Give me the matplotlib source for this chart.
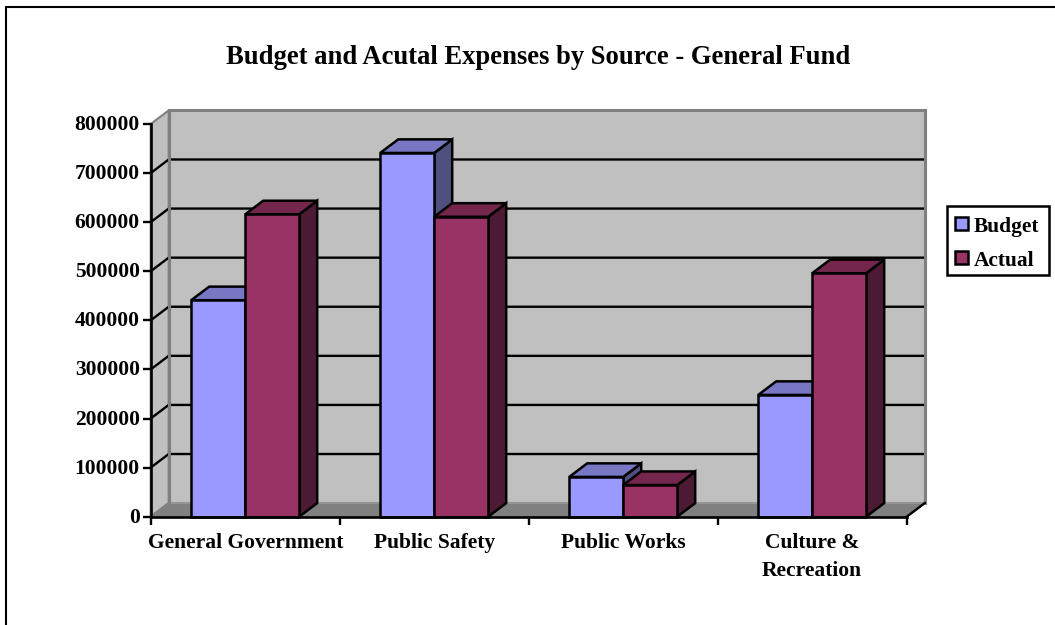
import matplotlib
matplotlib.use('Agg')
import matplotlib.pyplot as plt
from matplotlib.patches import Polygon, Rectangle
from matplotlib.transforms import ScaledTranslation
import numpy as np

categories = ['General Government', 'Public Safety', 'Public Works', 'Culture &\nRecreation']
budget = [441000, 741000, 81000, 248000]
actual = [616000, 611000, 64500, 496000]
y_ticks = [0, 100000, 200000, 300000, 400000, 500000, 600000, 700000, 800000]

W, H = 1055, 625
plt.rcParams['font.family'] = 'Liberation Serif'
plt.rcParams['font.weight'] = 'bold'

fig = plt.figure(figsize=(W / 100, H / 100), dpi=100)

# outer chart frame, open on the right and at the bottom
fig.add_artist(Rectangle((6.0 / W, -0.02), (W + 20) / W, 1.02 - 6.7 / H, transform=fig.transFigure,
                         fill=False, edgecolor='black', linewidth=1.5))

# axes covers the front face of the 3d box
left, right, top, bottom = 150.7, 906.7, 124.0, 516.7
ax = fig.add_axes([left / W, 1 - bottom / H, (right - left) / W, (bottom - top) / H])
ax.set_xlim(0, 4)
ax.set_ylim(0, 800000)
ax.patch.set_visible(False)
for s in ax.spines.values():
    s.set_visible(False)

# depth of the box, in data units
dx = 18.0 / 189.0
dy = 13.6 / 392.7 * 800000


def poly(pts, fc, ec, lw, z):
    ax.add_patch(Polygon(pts, closed=True, facecolor=fc, edgecolor=ec, linewidth=lw,
                         joinstyle='miter', clip_on=False, zorder=z))


wall = '#c0c0c0'
wall_edge = '#808080'
ymax = y_ticks[-1]

# back wall, side wall, floor
poly([(dx, dy), (4 + dx, dy), (4 + dx, ymax + dy), (dx, ymax + dy)], wall, wall_edge, 2.2, 1)
poly([(0, 0), (dx, dy), (dx, ymax + dy), (0, ymax)], wall, wall_edge, 1.5, 1)
poly([(0, 0), (4, 0), (4 + dx, dy), (dx, dy)], '#808080', '#808080', 1.5, 1)
ax.plot([dx, 4 + dx], [dy, dy], color='#9a9a9a', lw=1.2, clip_on=False, zorder=1.5)

# gridlines run along the side wall and then the back wall
for v in y_ticks[1:-1]:
    ax.plot([0, dx, 4 + dx], [v, v + dy, v + dy], color='black', lw=1.7, clip_on=False,
            solid_capstyle='butt', zorder=2)

# redraw the wall corners over the grid ends
ax.plot([dx, dx], [dy, ymax + dy], color=wall_edge, lw=2.2, clip_on=False, zorder=2.5)
ax.plot([4 + dx, 4 + dx], [dy, ymax + dy], color=wall_edge, lw=2.2, clip_on=False, zorder=2.5)

# axis lines and ticks
ax.plot([0, 0], [0, ymax], color='black', lw=1.9, clip_on=False, zorder=6)
ax.plot([0, 4], [0, 0], color='black', lw=1.9, clip_on=False, zorder=6)
ax.plot([4, 4 + dx], [0, dy], color='black', lw=1.7, clip_on=False, zorder=2.6)
ax.set_yticks(y_ticks)
ax.set_yticklabels([str(v) for v in y_ticks], fontsize=15.5)
ax.set_xticks(np.arange(5))
ax.set_xticklabels([])
ax.tick_params(axis='y', length=5.8, width=1.7, color='black', pad=2)
ax.tick_params(axis='x', length=5.5, width=1.7, color='black')

# nudge the value labels up a little
nudge = ScaledTranslation(0, 1.5 / 100, fig.dpi_scale_trans)
for label in ax.get_yticklabels():
    label.set_transform(label.get_transform() + nudge)

bar_w = 54.0 / 189.0
colors = [('#9999ff', '#7777c4', '#50507f'), ('#993366', '#74264d', '#4d1a33')]
for i, (b, a) in enumerate(zip(budget, actual)):
    for j, val in enumerate((b, a)):
        x0 = i + 0.5 + (j - 1) * bar_w
        x1 = x0 + bar_w
        front, top_c, side = colors[j]
        z = 3 + 0.1 * i + 0.01 * j
        poly([(x1, 0), (x1 + dx, dy), (x1 + dx, val + dy), (x1, val)], side, 'black', 1.8, z)
        poly([(x0, val), (x1, val), (x1 + dx, val + dy), (x0 + dx, val + dy)], top_c, 'black', 1.8, z)
        poly([(x0, 0), (x1, 0), (x1, val), (x0, val)], front, 'black', 1.8, z)

for i, name in enumerate(categories):
    ax.text(i + 0.5, -33000, name, ha='center', va='top', fontsize=15.5, fontweight='bold',
            linespacing=1.55)

fig.text(538 / W, 1 - 57 / H, 'Budget and Acutal Expenses by Source - General Fund', ha='center', va='center',
         fontsize=19.2, fontweight='bold')

# legend box
fig.add_artist(Rectangle((946.5 / W, 1 - 275 / H), 102.5 / W, 69 / H, transform=fig.transFigure,
                         facecolor='white', edgecolor='black', linewidth=1.8))
for name, c, yc, ty in [('Budget', colors[0][0], 223.5, 226.5), ('Actual', colors[1][0], 257.5, 261)]:
    fig.add_artist(Rectangle((954.5 / W, 1 - (yc + 6.5) / H), 13 / W, 13 / H, transform=fig.transFigure,
                             facecolor=c, edgecolor='black', linewidth=1.8))
    fig.text(974 / W, 1 - ty / H, name, ha='left', va='center', fontsize=15.4, fontweight='bold')

fig.savefig('out.png', dpi=100)
